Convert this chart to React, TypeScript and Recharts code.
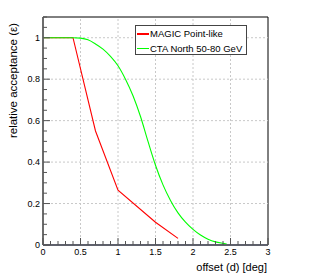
import React from "react";
import {
  LineChart,
  Line,
  XAxis,
  YAxis,
  ReferenceLine,
  ReferenceArea,
  Legend,
} from "recharts";

const magicOffset = [0, 0.4, 0.7, 1.0, 1.5, 1.8];
const magicAcc = [1, 1, 0.55, 0.265, 0.11, 0.032];

const ctaOffset = [0, 0.4, 0.5, 0.6, 0.7, 0.8, 0.9, 1.0, 1.1, 1.2, 1.3, 1.4, 1.5, 1.6, 1.7, 1.8, 1.9, 2.0, 2.1, 2.2, 2.3, 2.4, 2.45];
const ctaAcc = [1, 1, 0.998, 0.99, 0.97, 0.945, 0.91, 0.865, 0.8, 0.72, 0.62, 0.5, 0.385, 0.29, 0.215, 0.155, 0.11, 0.075, 0.048, 0.028, 0.015, 0.008, 0.005];

const xMajor = [0, 0.5, 1, 1.5, 2, 2.5, 3];
const yMajor = [0, 0.2, 0.4, 0.6, 0.8, 1];
const xGrid = [0.5, 1, 1.5, 2, 2.5];
const yGrid = [0.2, 0.4, 0.6, 0.8, 1];

const xTicks = Array.from({ length: 31 }, (_, i) => i / 10);
const yTicks = Array.from({ length: 23 }, (_, i) => i / 20);

const magicData = magicOffset.map((x, i) => ({ x, y: magicAcc[i] }));
const ctaData = ctaOffset.map((x, i) => ({ x, y: ctaAcc[i] }));

const FONT = "'Liberation Sans', Arial, sans-serif";
const TICK = "#555";

function XTick({ x, y, payload }: any) {
  const v = payload.value;
  const major = xMajor.includes(v);
  return (
    <g>
      <line x1={x} x2={x} y1={y} y2={y - (major ? 7 : 4)} stroke={TICK} />
      {major && (
        <text x={x} y={y + 10} textAnchor="middle" fontSize={9} fontFamily={FONT} fill="#000">
          {String(v)}
        </text>
      )}
    </g>
  );
}

function YTick({ x, y, payload }: any) {
  const v = payload.value;
  const major = yMajor.includes(v);
  return (
    <g>
      <line x1={x} x2={x + (major ? 7 : 4)} y1={y} y2={y} stroke={TICK} />
      {major && (
        <text x={x - 3} y={y + 3} textAnchor="end" fontSize={9} fontFamily={FONT} fill="#000">
          {String(v)}
        </text>
      )}
    </g>
  );
}

function LegendBox() {
  const rows = [
    { name: "MAGIC Point-like", color: "#ff0000" },
    { name: "CTA North 50-80 GeV", color: "#00ff00" },
  ];
  return (
    <div
      style={{
        width: 110,
        height: 28,
        border: "1px solid #444",
        background: "#fff",
        fontFamily: FONT,
        fontSize: 9.5,
        boxSizing: "content-box",
      }}
    >
      {rows.map((r) => (
        <div key={r.name} style={{ display: "flex", alignItems: "center", height: 13.5, marginTop: 1 }}>
          <div style={{ width: 12, height: 1.5, background: r.color, marginLeft: 1, marginRight: 1 }} />
          <span style={{ whiteSpace: "nowrap", color: "#000" }}>{r.name}</span>
        </div>
      ))}
    </div>
  );
}

export default function App() {
  return (
    <div style={{ position: "absolute", left: 0, top: 0, width: 315, height: 276, background: "#fff" }}>
      <LineChart
        width={315}
        height={276}
        margin={{ top: 17, right: 47, bottom: 0, left: 0 }}
      >
        <XAxis
          type="number"
          dataKey="x"
          domain={[0, 3]}
          ticks={xTicks}
          interval={0}
          tickSize={0}
          tickMargin={0}
          tickLine={false}
          axisLine={{ stroke: "#666", strokeWidth: 1.5 }}
          tick={<XTick />}
          height={31}
          allowDataOverflow
        />
        <YAxis
          type="number"
          domain={[0, 1.1]}
          ticks={yTicks}
          interval={0}
          tickSize={0}
          tickMargin={0}
          tickLine={false}
          axisLine={{ stroke: "#666", strokeWidth: 1.5 }}
          tick={<YTick />}
          width={43}
          allowDataOverflow
        />
        {xGrid.map((v) => (
          <ReferenceLine key={"gx" + v} x={v} stroke="#c8c8c8" strokeDasharray="2 2" />
        ))}
        {yGrid.map((v) => (
          <ReferenceLine key={"gy" + v} y={v} stroke="#c8c8c8" strokeDasharray="2 2" />
        ))}
        <ReferenceArea x1={0} x2={3} y1={0} y2={1.1} fill="none" stroke="#000" />
        <ReferenceLine y={0} stroke="#1c2a80" strokeWidth={1.2} />
        <Line
          data={magicData}
          dataKey="y"
          type="linear"
          stroke="#ff0000"
          strokeWidth={1.1}
          dot={false}
          isAnimationActive={false}
        />
        <Line
          data={ctaData}
          dataKey="y"
          type="monotone"
          stroke="#00ff00"
          strokeWidth={1.1}
          dot={false}
          isAnimationActive={false}
        />
        <Legend
          layout="vertical"
          align="center"
          verticalAlign="middle"
          content={<LegendBox />}
          wrapperStyle={{ left: 135, top: 25, width: 112, height: 30 }}
        />
        <text
          x={267}
          y={271}
          textAnchor="end"
          fontSize={11}
          fontFamily={FONT}
          fill="#000"
        >
          offset (d) [deg]
        </text>
        <text
          transform="translate(17, 23) rotate(-90)"
          textAnchor="end"
          fontSize={11.5}
          fontFamily={FONT}
          fill="#000"
        >
          relative acceptance (ε)
        </text>
      </LineChart>
    </div>
  );
}
